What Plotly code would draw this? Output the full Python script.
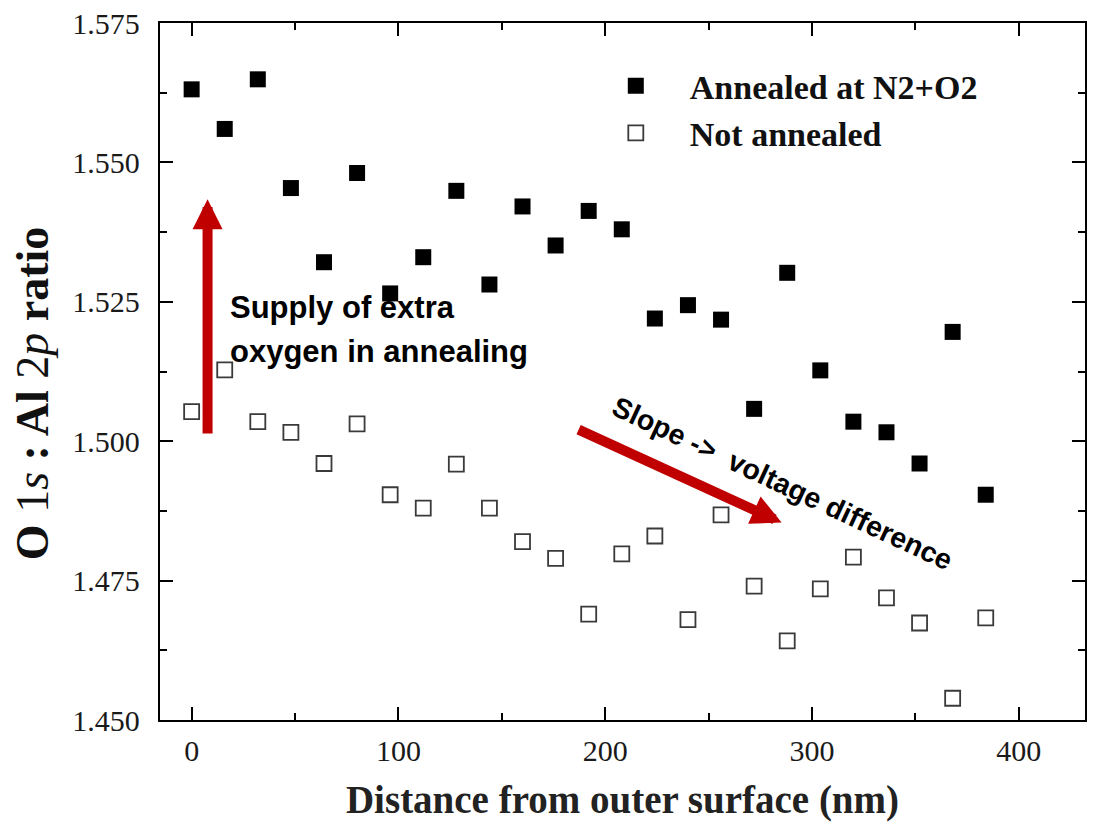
import plotly.graph_objects as go

distance_nm = [0, 16, 32, 48, 64, 80, 96, 112, 128, 144, 160, 176, 192,
               208, 224, 240, 256, 272, 288, 304, 320, 336, 352, 368, 384]

annealed = [1.5631, 1.5560, 1.5649, 1.5454, 1.5321, 1.5481, 1.5265, 1.5330,
            1.5449, 1.5281, 1.5421, 1.5351, 1.5413, 1.5380, 1.5220, 1.5244,
            1.5218, 1.5058, 1.5302, 1.5127, 1.5035, 1.5016, 1.4960, 1.5196,
            1.4904]

not_annealed = [1.5053, 1.5128, 1.5035, 1.5016, 1.4960, 1.5031, 1.4904, 1.4880,
                1.4959, 1.4880, 1.4820, 1.4790, 1.4690, 1.4798, 1.4830, 1.4680,
                1.4868, 1.4740, 1.4642, 1.4735, 1.4792, 1.4719, 1.4674, 1.4539,
                1.4683]

series_names = ["Annealed at N2+O2", "Not annealed"]
x_ticks = [0, 100, 200, 300, 400]
y_ticks = [1.450, 1.475, 1.500, 1.525, 1.550, 1.575]
y_tick_labels = ["1.450", "1.475", "1.500", "1.525", "1.550", "1.575"]

SERIF = "Liberation Serif, Times New Roman, serif"
SANS = "Liberation Sans, Arial, sans-serif"
RED = "#C00000"

fig = go.Figure()
fig.add_trace(go.Scatter(
    x=distance_nm, y=annealed, mode="markers", name="<b>" + series_names[0] + "</b>",
    marker=dict(symbol="square", size=16, color="black", line=dict(width=0)),
))
fig.add_trace(go.Scatter(
    x=distance_nm, y=not_annealed, mode="markers", name="<b>" + series_names[1] + "</b>",
    marker=dict(symbol="square-open", size=15, color="#3a3a3a",
                line=dict(width=1.8, color="#3a3a3a")),
))

axis_common = dict(
    showline=True, linecolor="black", linewidth=2.3, mirror="ticks",
    ticks="inside", ticklen=13, tickwidth=2, tickcolor="black",
    showgrid=False, zeroline=False,
    tickfont=dict(family=SERIF, size=30, color="#1a1a1a"),
)

fig.update_xaxes(
    range=[-15.3, 432.0], tickvals=x_ticks,
    minor=dict(dtick=50, tick0=0, ticks="inside", ticklen=7, tickwidth=2,
               tickcolor="black", showgrid=False),
    ticklabelstandoff=3,
    title=dict(text="<b>Distance from outer surface (nm)</b>",
               font=dict(family=SERIF, size=39, color="#222222"), standoff=22),
    **axis_common,
)
fig.update_yaxes(
    range=[1.450, 1.575], tickvals=y_ticks, ticktext=y_tick_labels,
    minor=dict(dtick=0.0125, tick0=1.450, ticks="inside", ticklen=7, tickwidth=2,
               tickcolor="black", showgrid=False),
    ticklabelstandoff=12,
    **axis_common,
)

annotations = [
    dict(x=-0.138, y=0.468, xref="paper", yref="paper", xanchor="center", yanchor="middle",
         textangle=-90, showarrow=False,
         text="<b>O <span style='font-weight:normal'>1<i>s</i></span> : Al "
              "<span style='font-weight:normal'>2<i>p</i></span> ratio</b>",
         font=dict(family=SERIF, size=46, color="#111111")),
    dict(x=7.7, y=1.5434, ax=7.7, ay=1.5011, xref="x", yref="y", axref="x", ayref="y",
         text="", showarrow=True, arrowhead=2, arrowsize=0.6, arrowwidth=10,
         arrowcolor=RED),
    dict(x=285.3, y=1.4854, ax=186.4, ay=1.5022, xref="x", yref="y", axref="x", ayref="y",
         text="", showarrow=True, arrowhead=2, arrowsize=0.6, arrowwidth=10,
         arrowcolor=RED),
    dict(x=17.5, y=1.5240, xref="x", yref="y", xanchor="left", yanchor="middle",
         text="<b>Supply of extra</b>", showarrow=False,
         font=dict(family=SANS, size=31, color="black")),
    dict(x=17.5, y=1.5160, xref="x", yref="y", xanchor="left", yanchor="middle",
         text="<b>oxygen in annealing</b>", showarrow=False,
         font=dict(family=SANS, size=31, color="black")),
    dict(x=285.5, y=1.4925, xref="x", yref="y", xanchor="center", yanchor="middle",
         text="<b>Slope -&gt; &nbsp;voltage difference</b>", showarrow=False, textangle=25,
         font=dict(family=SANS, size=28.5, color="black")),
]

fig.update_layout(
    width=1093, height=822,
    margin=dict(l=160, r=6, t=21, b=102, pad=0),
    paper_bgcolor="white", plot_bgcolor="white",
    annotations=annotations,
    showlegend=True,
    legend=dict(
        x=0.456, y=0.951, xanchor="left", yanchor="top",
        bgcolor="rgba(0,0,0,0)", borderwidth=0,
        itemwidth=98, tracegroupgap=0,
        font=dict(family=SERIF, size=34, color="#111111"),
    ),
)

fig.write_html("out.html")
